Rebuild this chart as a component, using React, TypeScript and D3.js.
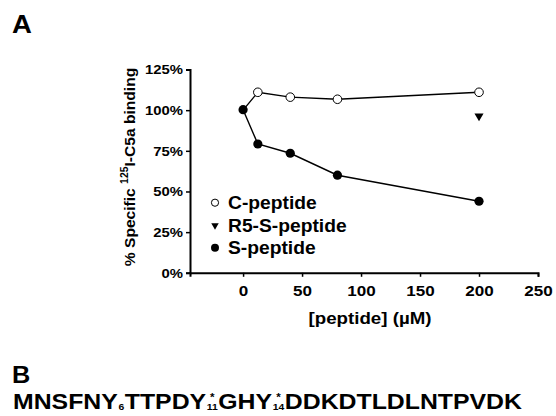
import React, { useRef, useEffect } from "react";
import * as d3 from "d3";

// valori (A)
const xTicks = [0, 50, 100, 150, 200, 250];
const yTicks = [0, 25, 50, 75, 100, 125];
const cPeptideConc = [0, 12.5, 40, 80, 200];
const cPeptideBinding = [100, 111, 108, 106.7, 111];
const sPeptideConc = [0, 12.5, 40, 80, 200];
const sPeptideBinding = [100.3, 79.2, 73.5, 60, 44];
const r5Conc = [200];
const r5Binding = [96.4];
const legendLabels = ["C-peptide", "R5-S-peptide", "S-peptide"];

// sequenza (B): pezzi di testo, con pedice e asterisco
const seqParts = [
  { text: "MNSFNY", sub: "6", star: false },
  { text: "TTPDY", sub: "11", star: true },
  { text: "GHY", sub: "14", star: true },
  { text: "DDKDTLDLNTPVDK", sub: "", star: false },
];

const FONT = "'Liberation Sans', Arial, Helvetica, sans-serif";
// il font dell'originale è un po' più largo: lo stiro in orizzontale
const SX = 1.1;

type Sel = d3.Selection<any, any, any, any>;

function addText(parent: Sel, x: number, y: number, size: number, str: string, anchor = "start") {
  return parent.append("text")
    .attr("transform", `translate(${x},${y}) scale(${SX},1)`)
    .attr("text-anchor", anchor)
    .style("font-size", `${size}px`)
    .text(str);
}

export default function App() {
  const svgRef = useRef<SVGSVGElement | null>(null);

  useEffect(() => {
    const svg = d3.select(svgRef.current);
    svg.selectAll("*").remove();

    const x = d3.scaleLinear().domain([-45, 250]).range([190, 538]);
    const y = d3.scaleLinear().domain([0, 125]).range([272.8, 69.5]);

    const g = svg.append("g").style("font-family", FONT).style("font-weight", "bold");

    // lettere dei pannelli
    addText(g, 12, 33, 25, "A");
    addText(g, 12, 383, 23, "B");

    // assi
    const yAxis = d3.axisLeft(y).tickValues(yTicks).tickSize(4).tickPadding(3)
      .tickFormat(d => `${d}%`);
    const xAxis = d3.axisBottom(x).tickValues(xTicks).tickSize(4).tickPadding(8)
      .tickFormat(d => `${d}`);

    const gy = g.append("g").attr("transform", `translate(${x.range()[0]},0)`).call(yAxis);
    const gx = g.append("g").attr("transform", `translate(0,${y.range()[0]})`).call(xAxis);
    [gx, gy].forEach(a => {
      a.select(".domain").attr("stroke", "#000").attr("stroke-width", 2);
      a.selectAll(".tick line").attr("stroke", "#000").attr("stroke-width", 1.5);
      a.selectAll("text").attr("fill", "#000").style("font-family", FONT).style("font-weight", "bold");
    });
    gy.selectAll("text").style("font-size", "13.5px")
      .attr("x", -7 / SX).attr("transform", `scale(${SX},1)`);
    gx.selectAll("text").style("font-size", "15.5px").attr("transform", `scale(${SX},1)`);

    // titoli degli assi
    const yl = g.append("text")
      .attr("transform", "translate(135,167) rotate(-90) scale(1.04,1)")
      .attr("text-anchor", "middle")
      .style("font-size", "15px");
    yl.append("tspan").text("% Specific ");
    yl.append("tspan").attr("dy", -7).style("font-size", "10px").text("125");
    yl.append("tspan").attr("dy", 7).text("I-C5a binding");

    addText(g, 370, 324, 17, "[peptide] (\u00b5M)", "middle");

    const line = d3.line<[number, number]>().x(d => x(d[0])).y(d => y(d[1]));
    const cData = cPeptideConc.map((c, i) => [c, cPeptideBinding[i]] as [number, number]);
    const sData = sPeptideConc.map((c, i) => [c, sPeptideBinding[i]] as [number, number]);
    const rData = r5Conc.map((c, i) => [c, r5Binding[i]] as [number, number]);

    g.append("path").attr("d", line(cData)).attr("fill", "none").attr("stroke", "#000").attr("stroke-width", 1.4);
    g.append("path").attr("d", line(sData)).attr("fill", "none").attr("stroke", "#000").attr("stroke-width", 1.4);

    g.selectAll("circle.c").data(cData.slice(1)).join("circle")
      .attr("class", "c")
      .attr("cx", d => x(d[0])).attr("cy", d => y(d[1])).attr("r", 4.3)
      .attr("fill", "#fff").attr("stroke", "#000").attr("stroke-width", 1);

    g.selectAll("circle.s").data(sData).join("circle")
      .attr("class", "s")
      .attr("cx", d => x(d[0])).attr("cy", d => y(d[1])).attr("r", 4.6)
      .attr("fill", "#000");

    const tri = d3.symbol().type(d3.symbolTriangle);
    g.selectAll("path.r5").data(rData).join("path")
      .attr("class", "r5")
      .attr("d", tri.size(36)())
      .attr("transform", d => `translate(${x(d[0])},${y(d[1])}) rotate(180)`)
      .attr("fill", "#000");

    // legenda
    const legY = [202.7, 225.5, 247.7];
    const leg = g.append("g");
    leg.append("circle").attr("cx", 215).attr("cy", legY[0]).attr("r", 3.6)
      .attr("fill", "#fff").attr("stroke", "#000").attr("stroke-width", 1);
    leg.append("path").attr("d", tri.size(24)())
      .attr("transform", `translate(215,${legY[1]}) rotate(180)`).attr("fill", "#000");
    leg.append("circle").attr("cx", 215).attr("cy", legY[2]).attr("r", 4).attr("fill", "#000");
    legendLabels.forEach((t, i) => addText(leg, 228, legY[i] + 6.3, 17.5, t));

    // sequenza
    const seq = g.append("g");
    let cx = 0;
    const base = 409;
    seqParts.forEach(p => {
      const t = seq.append("text").attr("x", cx).attr("y", base).style("font-size", "21.5px").text(p.text);
      cx += (t.node() as SVGTextElement).getComputedTextLength();
      if (p.sub) {
        const s = seq.append("text").attr("x", cx + 0.5).attr("y", base + 1).style("font-size", "9px").text(p.sub);
        const w = (s.node() as SVGTextElement).getComputedTextLength();
        if (p.star) {
          seq.append("text").attr("x", cx + 0.5 + w / 2).attr("y", base - 7.5)
            .attr("text-anchor", "middle").style("font-size", "10px").text("*");
        }
        cx += w + 1;
      }
    });
    // allinea la sequenza tra x=13 e x=522 come nell'originale
    seq.attr("transform", `translate(13,0) scale(${(522 - 13) / cx},1)`);
  }, []);

  return (
    <svg ref={svgRef} width={556} height={416}
      style={{ position: "absolute", left: 0, top: 0, background: "#fff" }} />
  );
}
